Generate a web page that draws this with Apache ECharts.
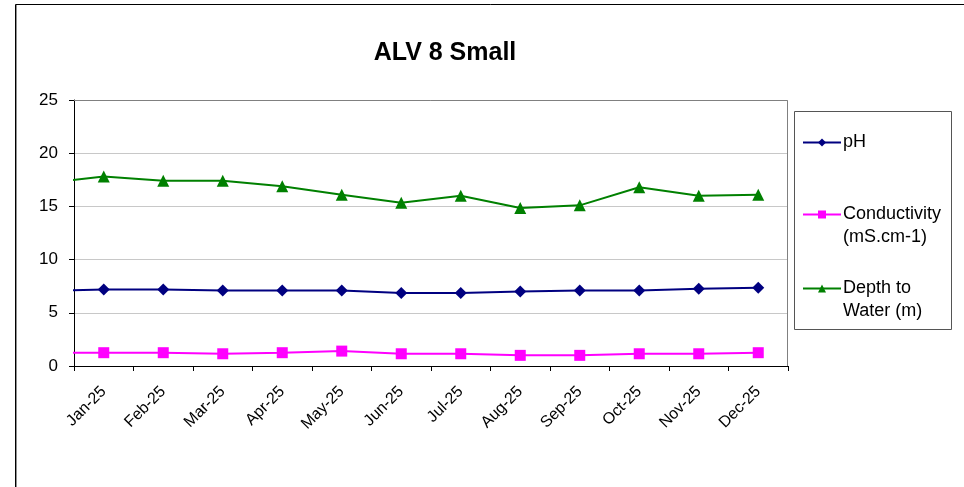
<!DOCTYPE html>
<html>
<head>
<meta charset="utf-8">
<title>ALV 8 Small</title>
<script src="https://cdn.jsdelivr.net/npm/echarts@6/dist/echarts.min.js"></script>
<style>
  html, body { margin: 0; padding: 0; background: #ffffff; }
  #chart { width: 964px; height: 487px; }
</style>
</head>
<body>
<div id="chart"></div>
<script>
// Monthly readings for borehole ALV 8 Small
const categories = ['Jan-25', 'Feb-25', 'Mar-25', 'Apr-25', 'May-25', 'Jun-25',
                    'Jul-25', 'Aug-25', 'Sep-25', 'Oct-25', 'Nov-25', 'Dec-25'];
const phValues = [7.2, 7.2, 7.1, 7.1, 7.1, 6.85, 6.85, 7.0, 7.1, 7.1, 7.25, 7.35];
const conductivityValues = [1.25, 1.25, 1.15, 1.25, 1.4, 1.15, 1.15, 1.0, 1.0, 1.15, 1.15, 1.25];
const depthValues = [17.8, 17.4, 17.4, 16.9, 16.1, 15.35, 16.0, 14.85, 15.1, 16.8, 16.0, 16.1];
// Readings from the month before the plotted year (line enters from the left edge)
const priorPh = 7.05;
const priorConductivity = 1.25;
const priorDepth = 17.2;
const yTicks = [0, 5, 10, 15, 20, 25];

const seriesNames = ['pH', 'Conductivity\n(mS.cm-1)', 'Depth to\nWater (m)'];

// Points sit in the middle of each month band on a 0..12 numeric scale
function toPoints(prior, values) {
  const pts = [{ value: [-0.5, prior], symbol: 'none' }];
  values.forEach((v, i) => pts.push([i + 0.5, v]));
  return pts;
}

const chart = echarts.init(document.getElementById('chart'), null, { renderer: 'canvas' });

const font = 'Liberation Sans, Arial, sans-serif';
const plotLeft = 74, plotTop = 100, plotRight = 788, plotBottom = 366;

function legendFor(name, top) {
  return {
    left: 802,
    top: top,
    orient: 'vertical',
    data: [name],
    itemWidth: 38,
    itemHeight: 10,
    itemGap: 0,
    padding: 0,
    selectedMode: false,
    // keep the marker level with the first text line
    formatter: n => (n.indexOf('\n') >= 0 ? '\n' + n : n),
    textStyle: { fontFamily: font, fontSize: 18, color: '#000', lineHeight: 23, padding: [0, 0, 0, -3] }
  };
}

const option = {
  animation: false,
  backgroundColor: '#ffffff',
  title: {
    text: 'ALV 8 Small',
    left: 440,
    top: 36,
    textAlign: 'center',
    textStyle: { fontFamily: font, fontSize: 25, fontWeight: 'bold', color: '#000' }
  },
  graphic: [
    { type: 'rect', shape: { x: 15.5, y: 4.5, width: 1000, height: 600 }, style: { fill: 'none', stroke: '#000', lineWidth: 1 }, z: 100 },
    { type: 'line', shape: { x1: 16.5, y1: 5, x2: 16.5, y2: 487 }, style: { stroke: '#909090', lineWidth: 1 }, z: 100 },
    { type: 'rect', shape: { x: 794.5, y: 111.5, width: 157, height: 218 }, style: { fill: '#fff', stroke: '#555', lineWidth: 1 }, z: -1 },
    { type: 'polyline', shape: { points: [[plotLeft, plotTop + 0.5], [plotRight - 0.5, plotTop + 0.5], [plotRight - 0.5, plotBottom]] }, style: { stroke: '#808080', lineWidth: 1, fill: 'none' }, z: 1 }
  ],
  legend: [
    legendFor(seriesNames[0], 131),
    legendFor(seriesNames[1], 180),
    legendFor(seriesNames[2], 254)
  ],
  grid: {
    left: plotLeft,
    top: plotTop,
    width: plotRight - plotLeft,
    height: plotBottom - plotTop,
    containLabel: false
  },
  xAxis: [
    {
      type: 'category',
      data: categories,
      boundaryGap: true,
      axisLine: { lineStyle: { color: '#000', width: 1 } },
      axisTick: { show: true, length: 5, lineStyle: { color: '#000' } },
      axisLabel: { rotate: 45, fontFamily: font, fontSize: 16, color: '#000', margin: 23, interval: 0 },
      splitLine: { show: false }
    },
    {
      type: 'value',
      min: 0,
      max: 12,
      show: false
    }
  ],
  yAxis: {
    type: 'value',
    min: yTicks[0],
    max: yTicks[yTicks.length - 1],
    interval: 5,
    axisLine: { show: true, lineStyle: { color: '#000', width: 1 } },
    axisTick: { show: true, length: 5, lineStyle: { color: '#000' } },
    axisLabel: { fontFamily: font, fontSize: 17, color: '#000', margin: 16 },
    splitLine: { show: true, lineStyle: { color: '#c8c8c8', width: 1 } }
  },
  series: [
    {
      name: seriesNames[0],
      type: 'line',
      xAxisIndex: 1,
      data: toPoints(priorPh, phValues),
      clip: true,
      symbol: 'diamond',
      symbolSize: 12,
      lineStyle: { color: '#000080', width: 2 },
      itemStyle: { color: '#000080' },
      z: 3
    },
    {
      name: seriesNames[1],
      type: 'line',
      xAxisIndex: 1,
      data: toPoints(priorConductivity, conductivityValues),
      clip: true,
      symbol: 'rect',
      symbolSize: 11,
      lineStyle: { color: '#ff00ff', width: 2 },
      itemStyle: { color: '#ff00ff' },
      z: 3
    },
    {
      name: seriesNames[2],
      type: 'line',
      xAxisIndex: 1,
      data: toPoints(priorDepth, depthValues),
      clip: true,
      symbol: 'triangle',
      symbolSize: 12,
      lineStyle: { color: '#008000', width: 2 },
      itemStyle: { color: '#008000' },
      z: 3
    }
  ]
};

chart.setOption(option);
</script>
</body>
</html>
